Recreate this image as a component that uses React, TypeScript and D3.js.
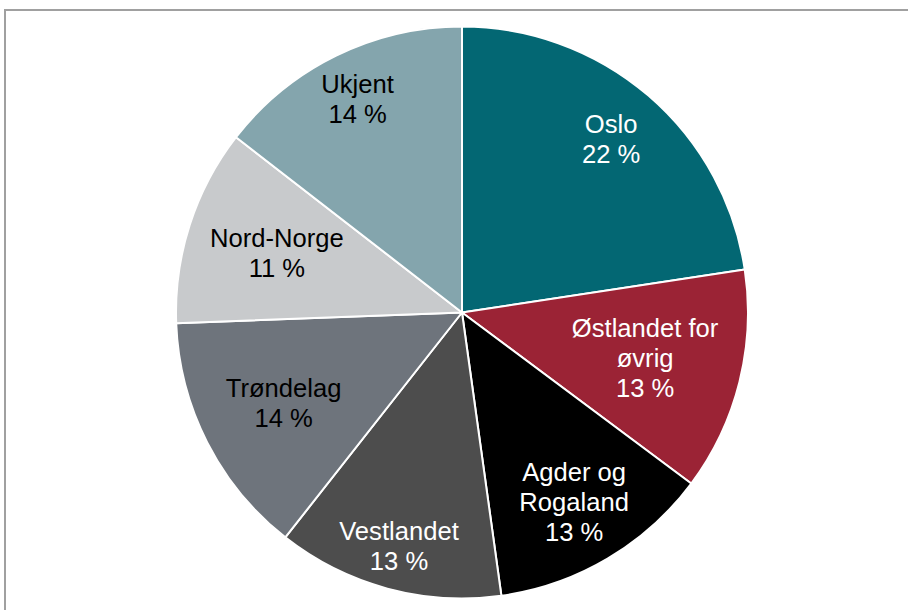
import React from "react";
import * as d3 from "d3";

const categories = ["Oslo", "Østlandet for øvrig", "Agder og Rogaland", "Vestlandet", "Trøndelag", "Nord-Norge", "Ukjent"];
const shares = [22.6, 12.6, 12.6, 12.8, 13.8, 11.1, 14.5];
const labelLines = [
  ["Oslo", "22 %"],
  ["Østlandet for", "øvrig", "13 %"],
  ["Agder og", "Rogaland", "13 %"],
  ["Vestlandet", "13 %"],
  ["Trøndelag", "14 %"],
  ["Nord-Norge", "11 %"],
  ["Ukjent", "14 %"],
];

const colors = ["#036773", "#9b2335", "#000000", "#4d4d4d", "#6e747c", "#c8cacc", "#84a5ad"];
const textColors = ["#ffffff", "#ffffff", "#ffffff", "#ffffff", "#000000", "#000000", "#000000"];
const labelRadiusFactor = [0.8, 0.66, 0.77, 0.845, 0.7, 0.68, 0.83];

const W = 908;
const H = 610;
const cx = 462;
const cy = 312.5;
const R = 286;
const fontSize = 25.6;
const lineH = 30;

export default function App() {
  const pie = d3.pie<number>().sort(null).value((d) => d);
  const arcs = pie(shares);
  const arc = d3.arc<d3.PieArcDatum<number>>().innerRadius(0).outerRadius(R);

  return (
    <svg width={W} height={H} style={{ position: "absolute", left: 0, top: 0 }}>
      <rect x={5} y={10} width={W + 20} height={H + 20} fill="#ffffff" stroke="#a0a0a0" strokeWidth={2} />
      <g transform={`translate(${cx},${cy})`}>
        {arcs.map((a, i) => (
          <path key={categories[i]} d={arc(a) || ""} fill={colors[i]} stroke="#ffffff" strokeWidth={2} strokeLinejoin="round" />
        ))}
        {arcs.map((a, i) => {
          const mid = (a.startAngle + a.endAngle) / 2;
          const r = R * labelRadiusFactor[i];
          const x = r * Math.sin(mid);
          const y = -r * Math.cos(mid);
          const lines = labelLines[i];
          const y0 = y - ((lines.length - 1) * lineH) / 2;
          return (
            <text
              key={"t" + i}
              x={x}
              y={y0}
              textAnchor="middle"
              dominantBaseline="central"
              fontFamily="'Liberation Sans', Arial, sans-serif"
              fontSize={fontSize}
              fill={textColors[i]}
            >
              {lines.map((l, j) => (
                <tspan key={j} x={x} dy={j === 0 ? 0 : lineH}>
                  {l}
                </tspan>
              ))}
            </text>
          );
        })}
      </g>
    </svg>
  );
}
